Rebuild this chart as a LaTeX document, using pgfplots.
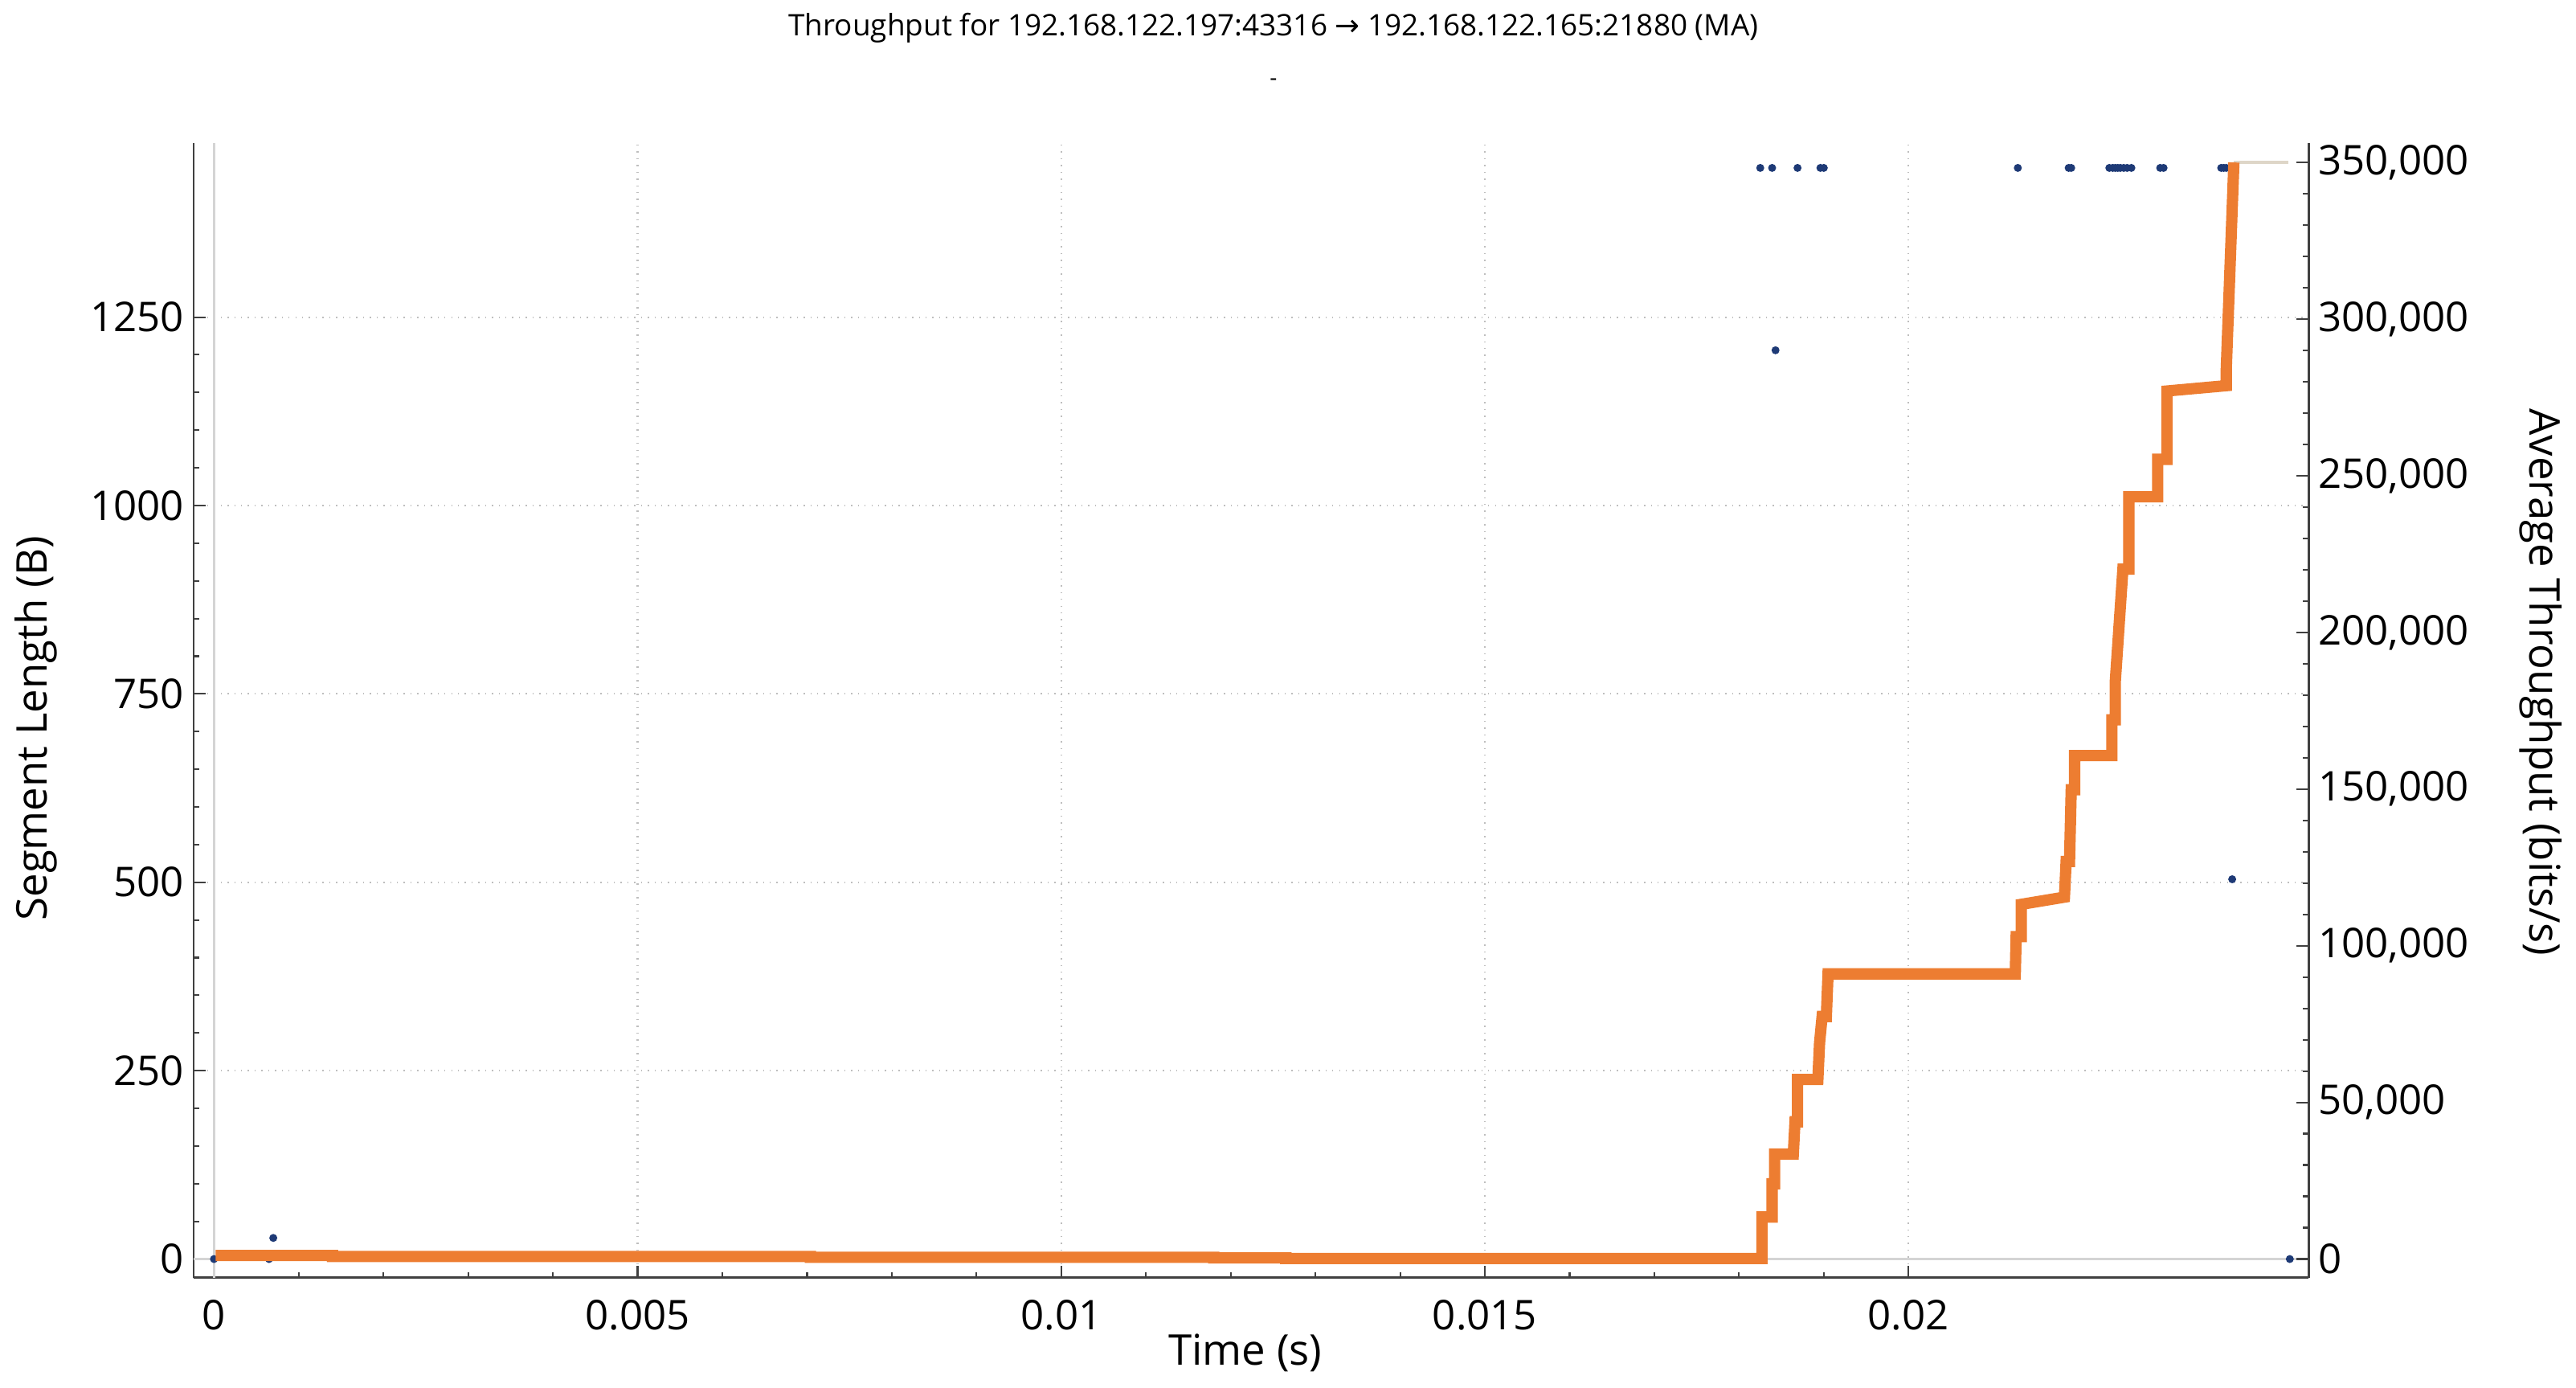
\documentclass[border=0pt]{standalone}
\usepackage{fontspec}
\setmainfont{Open Sans}
\newfontfamily\arrowfont{DejaVu Sans}
\usepackage{pgfplots}
\pgfplotsset{compat=1.18}
\definecolor{mao}{RGB}{237,125,49}
\definecolor{segblue}{RGB}{30,58,118}
\definecolor{axgray}{RGB}{64,64,64}
\definecolor{gridgray}{RGB}{190,190,190}
\definecolor{zerogray}{RGB}{212,212,212}
\definecolor{tanline}{RGB}{222,214,200}

\pgfplotsset{
  common/.style={
    scale only axis, width=26.32cm, height=14.12cm,
    xmin=-0.00024, xmax=0.02472,
    tick align=inside,
    major tick length=0.15cm, minor tick length=0.07cm,
    every tick/.style={axgray, line width=0.6pt},
    axis line style={-, axgray, line width=0.85pt},
    tick label style={font=\fontsize{14.5}{17}\selectfont, black},
    /pgf/number format/assume math mode=true,
    scaled ticks=false,
  }
}

\begin{document}
\begin{tikzpicture}
\begin{axis}[common,
  ymin=-25, ymax=1481,
  axis x line*=bottom, axis y line*=left,
  xtick={0,0.005,0.01,0.015,0.02},
  xticklabels={0,0.005,0.01,0.015,0.02},
  minor x tick num=4,
  ytick={0,250,500,750,1000,1250},
  yticklabels={0,250,500,750,1000,1250},
  minor y tick num=4,
  xmajorgrids, ymajorgrids,
  major grid style={gridgray, dotted, line width=0.6pt},
  xticklabel style={yshift=-0.15cm},
  xlabel={Time (s)}, ylabel={Segment Length (B)},
  every axis x label/.style={at={(axis description cs:0.4973,-0.0659)}, anchor=center, font=\fontsize{15}{18}\selectfont},
  every axis y label/.style={at={(axis description cs:-0.0745,0.4844)}, rotate=90, anchor=center, font=\fontsize{15}{18}\selectfont},
  title={Throughput for 192.168.122.197:43316 {\arrowfont →} 192.168.122.165:21880 (MA)},
  every axis title/.style={at={(axis description cs:0.5106,1.1013)}, anchor=center, font=\fontsize{10.5}{12}\selectfont},
]
\draw[zerogray, line width=0.7pt] (axis cs:0,-25) -- (axis cs:0,1481);
\draw[zerogray, line width=0.7pt] (axis cs:-0.00024,0) -- (axis cs:0.02472,0);
\addplot[only marks, mark=*, mark size=1.2pt, segblue] coordinates {
(0,0) (0.00065,0) (0.0007,28)
(0.01825,1448) (0.01839,1448) (0.01843,1206)
(0.01869,1448) (0.01896,1448) (0.01900,1448)
(0.02129,1448) (0.02189,1448) (0.02192,1448)
(0.02237,1448) (0.02241,1448) (0.02244,1448) (0.02247,1448) (0.02250,1448)
(0.02254,1448) (0.02258,1448) (0.02263,1448)
(0.02297,1448) (0.02301,1448)
(0.02369,1448) (0.02372,1448) (0.02375,1448)
(0.02382,504) (0.0245,0)
};
\end{axis}

\begin{axis}[common,
  ymin=-6030, ymax=356200,
  axis x line=none, axis y line*=right,
  ytick={0,50000,100000,150000,200000,250000,300000,350000},
  yticklabels={0,{50,000},{100,000},{150,000},{200,000},{250,000},{300,000},{350,000}},
  minor y tick num=4,
  ylabel={Average Throughput (bits/s)},
  every axis y label/.style={at={(axis description cs:1.1098,0.5248)}, rotate=-90, anchor=center, font=\fontsize{15}{18}\selectfont},
]
\addplot[tanline, line width=1.1pt] coordinates {(0.02384,350000) (0.02448,350000)};
\addplot[mao, line width=4pt, line join=miter] coordinates {
(0.00002,1100) (0.0014,1100) (0.0014,800) (0.00704,800) (0.00704,550)
(0.0118,550) (0.0118,350) (0.01265,350) (0.01265,150) (0.01827,150)
(0.01827,13400) (0.01839,13400) (0.01839,24000) (0.01842,24000) (0.01842,33500)
(0.01864,33500) (0.01866,43800) (0.01869,43800) (0.01869,57300) (0.01893,57300)
(0.01895,69000) (0.01898,77400) (0.01903,77400) (0.01905,91000) (0.02126,91000)
(0.02127,102900) (0.02133,102900) (0.02133,113200) (0.02184,115500) (0.02186,126900)
(0.02190,126900) (0.02192,149800) (0.02196,149800) (0.02196,160700) (0.02240,160700)
(0.02240,172100) (0.02244,172100) (0.02244,184200) (0.02253,220200) (0.02260,220200)
(0.02260,243300) (0.02294,243300) (0.02294,255250) (0.02305,255250) (0.02305,277050)
(0.02375,278750) (0.02375,284000) (0.02384,350000)
};
\end{axis}
\node[font=\fontsize{8}{9}\selectfont] at (13.44,14.88) {-};
\pgfresetboundingbox
\path (-2.41,-1.37) rectangle (29.65,15.90);
\end{tikzpicture}
\end{document}
